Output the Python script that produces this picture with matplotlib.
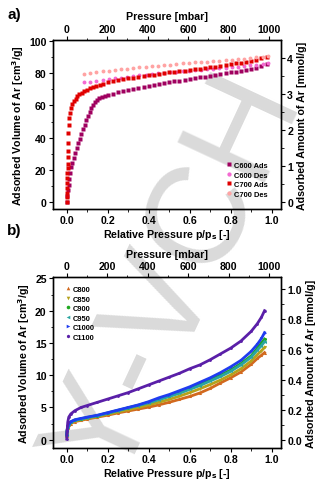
import matplotlib
matplotlib.use("Agg")
import matplotlib.pyplot as plt
from matplotlib.ticker import AutoMinorLocator, MultipleLocator, FormatStrFormatter
from matplotlib.lines import Line2D

plt.rcParams['font.family'] = ['Liberation Sans', 'DejaVu Sans']
plt.rcParams['font.weight'] = 'bold'
plt.rcParams['axes.labelweight'] = 'bold'
plt.rcParams['mathtext.default'] = 'bf'

# ---- panel a data (relative pressure, cm3/g) ----
c600_ads_x = [0.000, 0.003, 0.006, 0.009, 0.013, 0.017, 0.022, 0.028, 0.034, 0.041, 0.048, 0.056, 0.064,
              0.072, 0.080, 0.088, 0.096, 0.104, 0.112, 0.120, 0.129, 0.138, 0.148, 0.159, 0.171, 0.185,
              0.200, 0.225, 0.250, 0.275, 0.300, 0.325, 0.350, 0.375, 0.400, 0.425, 0.450, 0.475, 0.500,
              0.525, 0.550, 0.575, 0.600, 0.625, 0.650, 0.675, 0.700, 0.725, 0.750, 0.775, 0.800, 0.825,
              0.850, 0.875, 0.900, 0.925, 0.950, 0.975]
c600_ads_y = [0, 4, 7.5, 11, 14.5, 18, 22, 24.5, 27.5, 30.5, 33.5, 36.5, 39.5,
              42.5, 45.5, 48, 51, 53.5, 56, 58.3, 60.4, 62.2, 63.6, 64.7, 65.4, 66.0,
              66.5, 67.3, 68.1, 68.8, 69.5, 70.1, 70.8, 71.4, 72.0, 72.6, 73.2, 73.8, 74.4,
              74.9, 75.4, 75.9, 76.4, 76.9, 77.4, 77.9, 78.4, 78.9, 79.4, 79.9, 80.4, 80.9,
              81.5, 82.0, 82.6, 83.3, 84.4, 85.8]

c700_ads_x = [0.000, 0.001, 0.001, 0.002, 0.002, 0.003, 0.003, 0.004, 0.004, 0.005, 0.006, 0.007, 0.008,
              0.010, 0.013, 0.017, 0.022, 0.028, 0.035, 0.043, 0.052, 0.062, 0.073, 0.085, 0.098, 0.112,
              0.127, 0.143, 0.160, 0.178,
              0.200, 0.225, 0.250, 0.275, 0.300, 0.325, 0.350, 0.375, 0.400, 0.425, 0.450, 0.475, 0.500,
              0.525, 0.550, 0.575, 0.600, 0.625, 0.650, 0.675, 0.700, 0.725, 0.750, 0.775, 0.800, 0.825,
              0.850, 0.875, 0.900, 0.925, 0.950, 0.975]
c700_ads_y = [0, 3, 6, 9, 12, 15, 18, 21, 24, 28, 32, 37, 43,
              48, 52, 55.5, 58.3, 60.6, 62.6, 64.2, 65.6, 66.8, 67.9, 68.9, 69.8, 70.6,
              71.4, 72.1, 72.8, 73.5,
              74.3, 74.9, 75.5, 76.1, 76.7, 77.2, 77.7, 78.2, 78.7, 79.1, 79.5, 80.0, 80.4,
              80.8, 81.2, 81.6, 82.0, 82.4, 82.8, 83.3, 83.7, 84.1, 84.6, 85.0, 85.5, 86.0,
              86.5, 87.0, 87.6, 88.3, 89.2, 90.3]

des_x = [0.085, 0.115, 0.145, 0.175, 0.205, 0.235, 0.265, 0.295, 0.325, 0.355, 0.385, 0.415, 0.445, 0.475,
         0.505, 0.535, 0.565, 0.595, 0.625, 0.655, 0.685, 0.715, 0.745, 0.775, 0.805, 0.835, 0.865, 0.895,
         0.925, 0.955, 0.980]
c600_des_y = [74.2, 74.8, 75.3, 75.8, 76.3, 76.8, 77.2, 77.7, 78.2, 78.6, 79.0, 79.4, 79.8, 80.2,
              80.6, 80.9, 81.3, 81.6, 81.9, 82.2, 82.5, 82.8, 83.1, 83.4, 83.8, 84.1, 84.5, 84.9,
              85.3, 85.8, 86.3]
c700_des_y = [79.3, 80.0, 80.6, 81.1, 81.6, 82.0, 82.4, 82.8, 83.2, 83.6, 84.0, 84.3, 84.6, 85.0,
              85.3, 85.6, 86.0, 86.3, 86.6, 86.9, 87.2, 87.5, 87.8, 88.1, 88.4, 88.7, 89.0, 89.3,
              89.7, 90.1, 90.6]

# ---- panel b data ----
b_x = [0.000, 0.002, 0.005, 0.010, 0.020, 0.040, 0.070, 0.100, 0.150, 0.200, 0.250, 0.300, 0.350, 0.400,
       0.450, 0.500, 0.550, 0.600, 0.650, 0.700, 0.750, 0.800, 0.850, 0.900, 0.930, 0.950, 0.965]
c800 = [0.5, 1.2, 1.8, 2.2, 2.5, 2.8, 3.0, 3.2, 3.5, 3.8, 4.15, 4.45, 4.75, 5.05,
        5.4, 5.8, 6.25, 6.7, 7.25, 7.95, 8.8, 9.6, 10.5, 11.7, 12.6, 13.1, 13.5]
c850 = [0.6, 1.3, 1.9, 2.3, 2.6, 2.9, 3.1, 3.3, 3.6, 3.95, 4.3, 4.65, 5.0, 5.4,
        5.8, 6.25, 6.75, 7.3, 7.9, 8.55, 9.25, 10.05, 11.0, 12.2, 13.2, 13.8, 14.3]
c900 = [0.7, 1.4, 2.0, 2.4, 2.75, 3.05, 3.25, 3.45, 3.75, 4.15, 4.55, 4.95, 5.35, 5.8,
        6.3, 6.8, 7.35, 7.95, 8.6, 9.3, 10.0, 10.8, 11.8, 13.0, 14.2, 15.0, 15.6]
c950 = [0.7, 1.4, 2.0, 2.4, 2.7, 3.0, 3.2, 3.4, 3.7, 4.1, 4.5, 4.9, 5.3, 5.7,
        6.2, 6.7, 7.2, 7.8, 8.4, 9.1, 9.8, 10.6, 11.6, 12.8, 13.9, 14.6, 15.2]
c1000 = [0.8, 1.5, 2.1, 2.5, 2.8, 3.1, 3.3, 3.5, 3.8, 4.2, 4.6, 5.0, 5.4, 5.9,
         6.5, 7.0, 7.6, 8.2, 8.9, 9.6, 10.4, 11.3, 12.3, 13.7, 14.8, 15.7, 16.6]
c1100 = [0.1, 1.3, 2.7, 3.5, 4.0, 4.5, 5.0, 5.3, 5.8, 6.3, 6.8, 7.3, 7.9, 8.5,
         9.1, 9.7, 10.3, 11.0, 11.6, 12.4, 13.3, 14.2, 15.3, 16.8, 18.0, 19.0, 20.0]

b_names = ["C800", "C850", "C900", "C950", "C1000", "C1100"]
b_series = [c800, c850, c900, c950, c1000, c1100]
b_colors = ["#d2691e", "#b5a21c", "#1fa81f", "#2aa5a0", "#1f3cf0", "#5a1fa8"]
b_markers = ["^", "v", "o", "<", ">", "h"]

MBAR = 1013.0      # mbar per unit relative pressure
MMOL_A = 22.4      # cm3/g per mmol/g
MMOL_B = 23.3

TICK_FS = 7.6
LABEL_FS = 7.7


def style_axes(ax):
    ax.patch.set_visible(False)
    ax.tick_params(which='both', direction='out', labelsize=TICK_FS, pad=1.5)
    ax.tick_params(which='major', length=3, width=0.8)
    ax.tick_params(which='minor', length=1.8, width=0.6)
    for s in ax.spines.values():
        s.set_linewidth(0.9)


fig = plt.figure(figsize=(3.29, 4.81), dpi=100)

# publisher watermark, behind everything
wm = dict(fontsize=100, fontweight='normal', color='#dadada', rotation=65,
          rotation_mode='anchor', va='baseline', zorder=-5)
fig.text(156 / 329, 1 - 403 / 481, 'Y', ha='right', **wm)
fig.text(156 / 329, 1 - 403 / 481, '-VCH', ha='left', **wm)

# ================= panel a =================
ax = fig.add_axes([0.161, 0.563, 0.693, 0.352])
ax.plot(c600_ads_x, c600_ads_y, 's', ms=2.2, mec='none', color='#a0005f', label='C600 Ads')
ax.plot(des_x, c600_des_y, 'o', ms=2.8, mec='none', color='#f46ad2', label='C600 Des')
ax.plot(c700_ads_x, c700_ads_y, 's', ms=2.2, mec='none', color='#e00000', label='C700 Ads')
ax.plot(des_x, c700_des_y, 'o', ms=2.8, mec='none', color='#ffa3a3', label='C700 Des')
ax.set_xlim(-0.067, 1.045)
ax.set_ylim(-4.3, 100.6)
ax.xaxis.set_major_locator(MultipleLocator(0.2))
ax.xaxis.set_major_formatter(FormatStrFormatter('%.1f'))
ax.yaxis.set_major_locator(MultipleLocator(20))
ax.xaxis.set_minor_locator(AutoMinorLocator(2))
ax.yaxis.set_minor_locator(AutoMinorLocator(2))
ax.set_xlabel('Relative Pressure p/p$_s$ [-]', fontsize=LABEL_FS, labelpad=1)
ax.set_ylabel('Adsorbed Volume of Ar [cm$^3$/g]', fontsize=LABEL_FS, labelpad=2)
style_axes(ax)
ax.legend(loc='upper left', bbox_to_anchor=(0.76, 0.28), frameon=False, fontsize=5.4,
          handlelength=0.8, handletextpad=0.3, labelspacing=0.3, borderpad=0, borderaxespad=0,
          markerscale=1.1)

axr = ax.twinx()
axr.set_ylim(-4.3 / MMOL_A, 100.6 / MMOL_A)
axr.yaxis.set_major_locator(MultipleLocator(1))
axr.yaxis.set_minor_locator(AutoMinorLocator(2))
axr.set_ylabel('Adsorbed Amount of Ar [mmol/g]', fontsize=LABEL_FS, labelpad=3)
style_axes(axr)

axt = ax.twiny()
axt.set_xlim(-0.067 * MBAR, 1.045 * MBAR)
axt.xaxis.set_major_locator(MultipleLocator(200))
axt.xaxis.set_minor_locator(AutoMinorLocator(2))
axt.set_xlabel('Pressure [mbar]', fontsize=LABEL_FS, labelpad=3)
style_axes(axt)

fig.text(0.022, 0.968, 'a)', fontsize=11, fontweight='bold', va='center')

# ================= panel b =================
bx = fig.add_axes([0.161, 0.0665, 0.693, 0.355])
for name, ys, col, mk in zip(b_names, b_series, b_colors, b_markers):
    bx.plot(b_x, ys, '-', lw=2.0, color=col, marker=mk, ms=2.2, mec='none')
bx.set_xlim(-0.067, 1.045)
bx.set_ylim(-1.29, 25.18)
bx.xaxis.set_major_locator(MultipleLocator(0.2))
bx.xaxis.set_major_formatter(FormatStrFormatter('%.1f'))
bx.yaxis.set_major_locator(MultipleLocator(5))
bx.xaxis.set_minor_locator(AutoMinorLocator(2))
bx.yaxis.set_minor_locator(AutoMinorLocator(2))
bx.set_xlabel('Relative Pressure p/p$_s$ [-]', fontsize=LABEL_FS, labelpad=1)
bx.set_ylabel('Adsorbed Volume of Ar [cm$^3$/g]', fontsize=LABEL_FS, labelpad=2)
style_axes(bx)
handles = [Line2D([], [], ls='none', marker=mk, ms=2.6, mec='none', color=col)
           for col, mk in zip(b_colors, b_markers)]
bx.legend(handles, b_names, loc='upper left', bbox_to_anchor=(0.052, 0.95), frameon=False,
          fontsize=5.4, handlelength=0.8, handletextpad=0.3, labelspacing=0.3, borderpad=0,
          borderaxespad=0)

bxr = bx.twinx()
bxr.set_ylim(-1.29 / MMOL_B, 25.18 / MMOL_B)
bxr.yaxis.set_major_locator(MultipleLocator(0.2))
bxr.yaxis.set_major_formatter(FormatStrFormatter('%.1f'))
bxr.yaxis.set_minor_locator(AutoMinorLocator(2))
bxr.set_ylabel('Adsorbed Amount of Ar [mmol/g]', fontsize=LABEL_FS, labelpad=3)
style_axes(bxr)

bxt = bx.twiny()
bxt.set_xlim(-0.067 * MBAR, 1.045 * MBAR)
bxt.xaxis.set_major_locator(MultipleLocator(200))
bxt.xaxis.set_minor_locator(AutoMinorLocator(2))
bxt.set_xlabel('Pressure [mbar]', fontsize=LABEL_FS, labelpad=3)
style_axes(bxt)

fig.text(0.022, 0.52, 'b)', fontsize=11, fontweight='bold', va='center')

fig.savefig('out.png', dpi=100, facecolor='white')
